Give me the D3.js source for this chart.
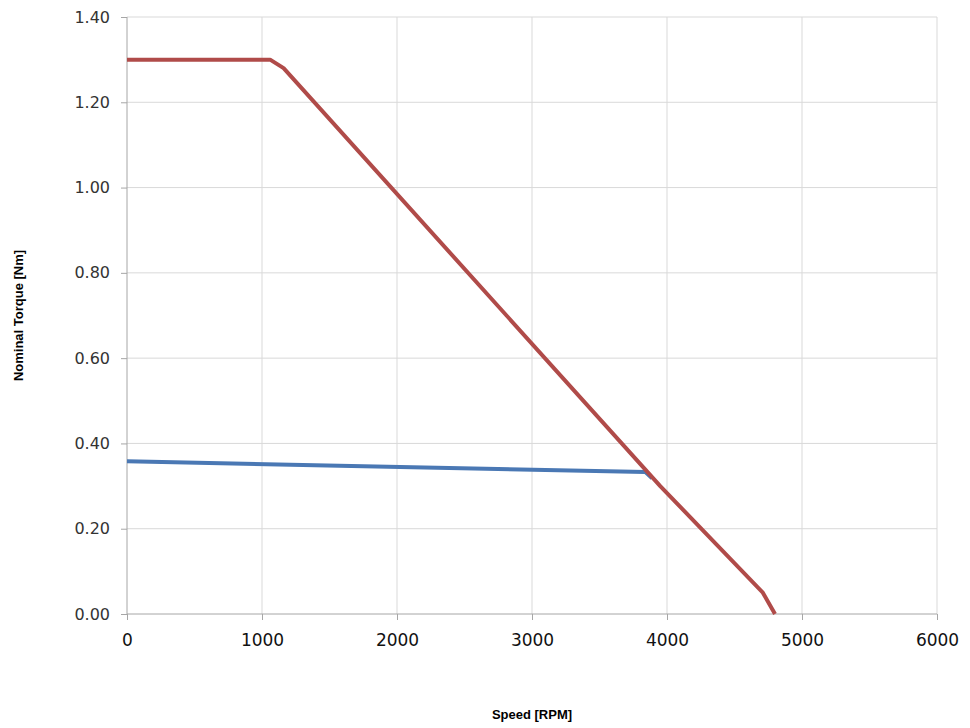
<!DOCTYPE html>
<html>
<head>
<meta charset="utf-8">
<script src="https://cdn.jsdelivr.net/npm/d3@7"></script>
<style>
  body { margin: 0; background: #fff; }
  svg { display: block; }
</style>
</head>
<body>
<div id="chart"></div>
<script>
// peak torque curve (red) and nominal torque curve (blue)
const peakSpeed = [0, 1060, 1160, 3950, 4710, 4800]
const peakTorque = [1.30, 1.30, 1.28, 0.30, 0.05, 0.00]
const nominalSpeed = [0, 3840, 3890]
const nominalTorque = [0.358, 0.333, 0.318]

const xTicks = [0, 1000, 2000, 3000, 4000, 5000, 6000]
const yTicks = [0, 0.2, 0.4, 0.6, 0.8, 1.0, 1.2, 1.4]

const margin = { top: 17, left: 127, right: 33, bottom: 114 }
const width = 970 - margin.left - margin.right
const height = 728 - margin.top - margin.bottom

const svg = d3
  .select('#chart')
  .append('svg')
  .attr('width', 970)
  .attr('height', 728)
  .append('g')
  .attr('transform', 'translate(' + margin.left + ',' + margin.top + ')')

const x = d3.scaleLinear().domain([0, 6000]).range([0, width])
const y = d3.scaleLinear().domain([0, 1.4]).range([height, 0])

// gridlines
svg
  .selectAll('.hgrid')
  .data(yTicks.slice(1))
  .enter()
  .append('line')
  .attr('x1', 0)
  .attr('x2', width)
  .attr('y1', d => y(d))
  .attr('y2', d => y(d))
  .attr('stroke', '#d9d9d9')
  .attr('stroke-width', 1)

svg
  .selectAll('.vgrid')
  .data(xTicks.slice(1))
  .enter()
  .append('line')
  .attr('x1', d => x(d))
  .attr('x2', d => x(d))
  .attr('y1', 0)
  .attr('y2', height)
  .attr('stroke', '#d9d9d9')
  .attr('stroke-width', 1)

// axes
const xAxis = svg
  .append('g')
  .attr('transform', `translate(0,${height})`)
  .call(
    d3.axisBottom(x)
      .tickValues(xTicks)
      .tickFormat(d3.format('d'))
      .tickSize(6)
      .tickPadding(14)
  )
xAxis.select('.domain').attr('stroke', '#a6a6a6').attr('d', `M0,0H${width}`)
xAxis.selectAll('.tick line').attr('stroke', '#a6a6a6')
xAxis
  .selectAll('text')
  .attr('fill', '#111')
  .style('font-family', 'DejaVu Sans, Verdana, sans-serif')
  .style('font-size', '17px')

const yAxis = svg
  .append('g')
  .call(
    d3.axisLeft(y)
      .tickValues(yTicks)
      .tickFormat(d3.format('.2f'))
      .tickSize(6)
      .tickPadding(11)
  )
yAxis.select('.domain').attr('stroke', '#a6a6a6').attr('d', `M0,0V${height}`)
yAxis.selectAll('.tick line').attr('stroke', '#a6a6a6')
yAxis
  .selectAll('text')
  .attr('fill', '#333')
  .style('font-family', 'DejaVu Sans, Verdana, sans-serif')
  .style('font-size', '16px')

// curves
const line = d3
  .line()
  .x(d => x(d[0]))
  .y(d => y(d[1]))

svg
  .append('path')
  .datum(d3.zip(nominalSpeed, nominalTorque))
  .attr('d', line)
  .attr('fill', 'none')
  .attr('stroke', '#4a78b4')
  .attr('stroke-width', 4)
  .attr('stroke-linejoin', 'round')

svg
  .append('path')
  .datum(d3.zip(peakSpeed, peakTorque))
  .attr('d', line)
  .attr('fill', 'none')
  .attr('stroke', '#b04b49')
  .attr('stroke-width', 4)
  .attr('stroke-linejoin', 'round')

// axis titles
svg
  .append('text')
  .text('Speed [RPM]')
  .attr('x', x(3000))
  .attr('y', 702)
  .attr('text-anchor', 'middle')
  .style('font-family', 'Liberation Sans, Arial, sans-serif')
  .style('font-size', '13px')
  .style('font-weight', 'bold')

svg
  .append('text')
  .text('Nominal Torque [Nm]')
  .attr('transform', `translate(-104,${y(0.7)}) rotate(-90)`)
  .attr('text-anchor', 'middle')
  .style('font-family', 'Liberation Sans, Arial, sans-serif')
  .style('font-size', '13px')
  .style('font-weight', 'bold')
</script>
</body>
</html>
